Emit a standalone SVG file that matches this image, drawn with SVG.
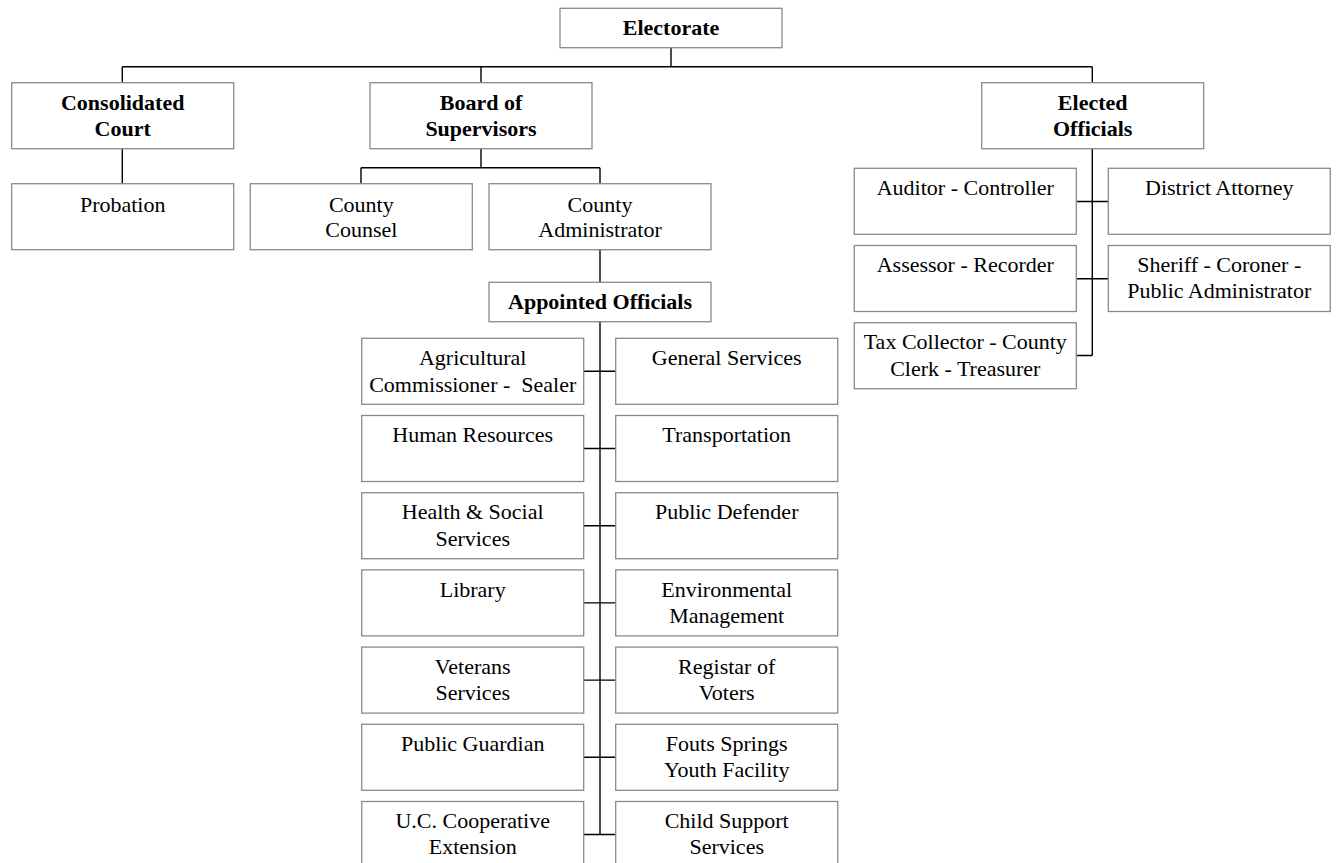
<svg xmlns="http://www.w3.org/2000/svg" width="1338" height="863" viewBox="0 0 1338 863">
<style>
.box{fill:#fff;stroke:#8a8a8a;stroke-width:1.3}
.t{font-family:"Liberation Serif","Times New Roman",serif;font-size:22px;fill:#000;text-anchor:middle}
.b{font-weight:bold}
.c{stroke:#000;stroke-width:1.4;fill:none}
</style>
<rect width="1338" height="863" fill="#fff"/>
<g id="connectors" class="c">
<path d="M671 47.7V66.7M122.3 66.7H1092.3M122.3 66.7V82.7M481 66.7V82.7M1092.3 66.7V82.7"/>
<path d="M122.3 148.7V183.7"/>
<path d="M481 148.7V167.7M361 167.7H600M361 167.7V183.7M600 167.7V183.7"/>
<path d="M600 249.7V282.3"/>
<path d="M600 321.7V834.5"/>
<path d="M584 371.3H615.7M584 448.5H615.7M584 525.7H615.7M584 602.9H615.7M584 680.1H615.7M584 757.3H615.7M584 834.5H615.7"/>
<path d="M1092.3 148.7V355.5M1076.7 201.5H1108.3M1076.7 278.7H1108.3M1076.7 355.5H1092.3"/>
</g>
<g id="electorate"><rect class="box" x="560" y="8.3" width="222" height="39.4"/><text class="t b" x="671" y="35">Electorate</text></g>
<g id="consolidated-court"><rect class="box" x="11.7" y="82.7" width="222" height="66"/><text class="t b" x="122.7" y="110">Consolidated</text><text class="t b" x="122.7" y="135.7">Court</text></g>
<g id="board-of-supervisors"><rect class="box" x="370" y="82.7" width="222" height="66"/><text class="t b" x="481" y="110">Board of</text><text class="t b" x="481" y="135.7">Supervisors</text></g>
<g id="elected-officials"><rect class="box" x="981.7" y="82.7" width="222" height="66"/><text class="t b" x="1092.7" y="110">Elected</text><text class="t b" x="1092.7" y="136">Officials</text></g>
<g id="probation"><rect class="box" x="11.7" y="183.7" width="222" height="66"/><text class="t" x="122.7" y="211.5">Probation</text></g>
<g id="county-counsel"><rect class="box" x="250.3" y="183.7" width="222" height="66"/><text class="t" x="361.3" y="211.5">County</text><text class="t" x="361.3" y="237.3">Counsel</text></g>
<g id="county-administrator"><rect class="box" x="489" y="183.7" width="222" height="66"/><text class="t" x="600" y="211.5">County</text><text class="t" x="600" y="237.3">Administrator</text></g>
<g id="appointed-officials"><rect class="box" x="489" y="282.3" width="222" height="39.4"/><text class="t b" x="600" y="309">Appointed Officials</text></g>
<g id="agricultural"><rect class="box" x="361.7" y="338.3" width="222" height="66"/><text class="t" x="472.7" y="365">Agricultural</text><text class="t" x="472.7" y="391.5">Commissioner - &#160;Sealer</text></g>
<g id="general-services"><rect class="box" x="615.7" y="338.3" width="222" height="66"/><text class="t" x="726.7" y="365">General Services</text></g>
<g id="human-resources"><rect class="box" x="361.7" y="415.5" width="222" height="66"/><text class="t" x="472.7" y="442.2">Human Resources</text></g>
<g id="transportation"><rect class="box" x="615.7" y="415.5" width="222" height="66"/><text class="t" x="726.7" y="442.2">Transportation</text></g>
<g id="health-social"><rect class="box" x="361.7" y="492.7" width="222" height="66"/><text class="t" x="472.7" y="519.4">Health &amp; Social</text><text class="t" x="472.7" y="545.6">Services</text></g>
<g id="public-defender"><rect class="box" x="615.7" y="492.7" width="222" height="66"/><text class="t" x="726.7" y="519.4">Public Defender</text></g>
<g id="library"><rect class="box" x="361.7" y="569.9" width="222" height="66"/><text class="t" x="472.7" y="596.6">Library</text></g>
<g id="environmental"><rect class="box" x="615.7" y="569.9" width="222" height="66"/><text class="t" x="726.7" y="596.6">Environmental</text><text class="t" x="726.7" y="622.8">Management</text></g>
<g id="veterans"><rect class="box" x="361.7" y="647.1" width="222" height="66"/><text class="t" x="472.7" y="673.8">Veterans</text><text class="t" x="472.7" y="700">Services</text></g>
<g id="registar"><rect class="box" x="615.7" y="647.1" width="222" height="66"/><text class="t" x="726.7" y="673.8">Registar of</text><text class="t" x="726.7" y="700">Voters</text></g>
<g id="public-guardian"><rect class="box" x="361.7" y="724.3" width="222" height="66"/><text class="t" x="472.7" y="751">Public Guardian</text></g>
<g id="fouts-springs"><rect class="box" x="615.7" y="724.3" width="222" height="66"/><text class="t" x="726.7" y="751">Fouts Springs</text><text class="t" x="726.7" y="777.2">Youth Facility</text></g>
<g id="uc-cooperative"><rect class="box" x="361.7" y="801.5" width="222" height="66"/><text class="t" x="472.7" y="828.2">U.C. Cooperative</text><text class="t" x="472.7" y="854.4">Extension</text></g>
<g id="child-support"><rect class="box" x="615.7" y="801.5" width="222" height="66"/><text class="t" x="726.7" y="828.2">Child Support</text><text class="t" x="726.7" y="854.4">Services</text></g>
<g id="auditor"><rect class="box" x="854.3" y="168.3" width="222" height="66"/><text class="t" x="965.3" y="195">Auditor - Controller</text></g>
<g id="district-attorney"><rect class="box" x="1108.3" y="168.3" width="222" height="66"/><text class="t" x="1219.3" y="195">District Attorney</text></g>
<g id="assessor"><rect class="box" x="854.3" y="245.5" width="222" height="66"/><text class="t" x="965.3" y="272">Assessor - Recorder</text></g>
<g id="sheriff"><rect class="box" x="1108.3" y="245.5" width="222" height="66"/><text class="t" x="1219.3" y="272">Sheriff - Coroner -</text><text class="t" x="1219.3" y="298.4">Public Administrator</text></g>
<g id="tax-collector"><rect class="box" x="854.3" y="322.7" width="222" height="66"/><text class="t" x="965.3" y="349.4">Tax Collector - County</text><text class="t" x="965.3" y="375.6">Clerk - Treasurer</text></g>
</svg>
